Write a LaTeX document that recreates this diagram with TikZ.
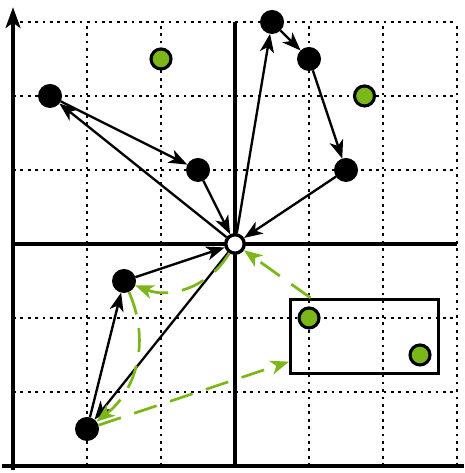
\documentclass[tikz,border=0pt]{standalone}
\usetikzlibrary{arrows.meta}
\definecolor{ygreen}{RGB}{124,183,26}
\begin{document}
\begin{tikzpicture}[x=1cm,y=1cm,
  gridline/.style={line width=1.05pt,dash pattern=on 1.05pt off 1.8pt},
  blk/.style={circle,fill=black,draw=black,inner sep=0pt,minimum size=0.31cm},
  grn/.style={circle,fill=ygreen,draw=black,line width=1.2pt,inner sep=0pt,minimum size=0.27cm},
  ctr/.style={circle,fill=white,draw=black,line width=1.3pt,inner sep=0pt,minimum size=0.25cm},
  arr/.style={line width=0.9pt,-{Stealth[length=2.5mm,width=1.9mm,inset=0.7mm]}},
  garr/.style={line width=1.05pt,draw=ygreen,dash pattern=on 3.2mm off 1.9mm,-{Stealth[length=2.5mm,width=1.9mm,inset=0.7mm]}},
  box/.style={draw=black,line width=1.2pt,minimum width=2cm,minimum height=1cm,inner sep=0pt}]
\useasboundingbox (-3.176,-3.095) rectangle (3.095,3.297);
% grid
\foreach \v in {-2,-1,1,2,3} {
  \draw[gridline] (\v,-3) -- (\v,3);
  \draw[gridline] (-3,\v) -- (3,\v);
}
\draw[line width=1.2pt] (0,-3) -- (0,3);
\draw[line width=1.2pt] (-3,0) -- (3,0);
% axes
\draw[line width=1.5pt,-{Stealth[length=2.8mm,width=2mm,inset=0.7mm]}] (-3,-3.06) -- (-3,3.2);
\draw[line width=1.5pt] (-3.15,-3) -- (3.1,-3);
% rectangle
\node[box] (R) at (1.75,-1.25) {};
% nodes
\node[ctr] (O) at (0,0) {};
\node[blk] (A) at (0.5,3) {};
\node[blk] (B) at (1,2.5) {};
\node[blk] (C) at (1.5,1) {};
\node[blk] (D) at (-2.5,2) {};
\node[blk] (E) at (-0.5,1) {};
\node[blk] (F) at (-1.5,-0.5) {};
\node[blk] (G) at (-2,-2.5) {};
\node[grn] (g1) at (-1,2.5) {};
\node[grn] (g2) at (1.75,2) {};
\node[grn] (g3) at (1,-1) {};
\node[grn] (g4) at (2.5,-1.5) {};
% black arrows
\draw[arr] (O) -- (A);
\draw[arr] (A) -- (B);
\draw[arr] (B) -- (C);
\draw[arr] (C) -- (O);
\draw[arr] (O) -- (D);
\draw[arr] (D) -- (E);
\draw[arr] (E) -- (O);
\draw[arr] (F) -- (O);
\draw[arr] (O) -- (G);
\draw[arr] (G) -- (F);
% green dashed arrows
\draw[garr] (R) -- (O);
\draw[garr] (O) to[bend left=40] (F);
\draw[garr] (F) to[bend left=38] (G);
\draw[garr] (G) -- (R);
\end{tikzpicture}
\end{document}
